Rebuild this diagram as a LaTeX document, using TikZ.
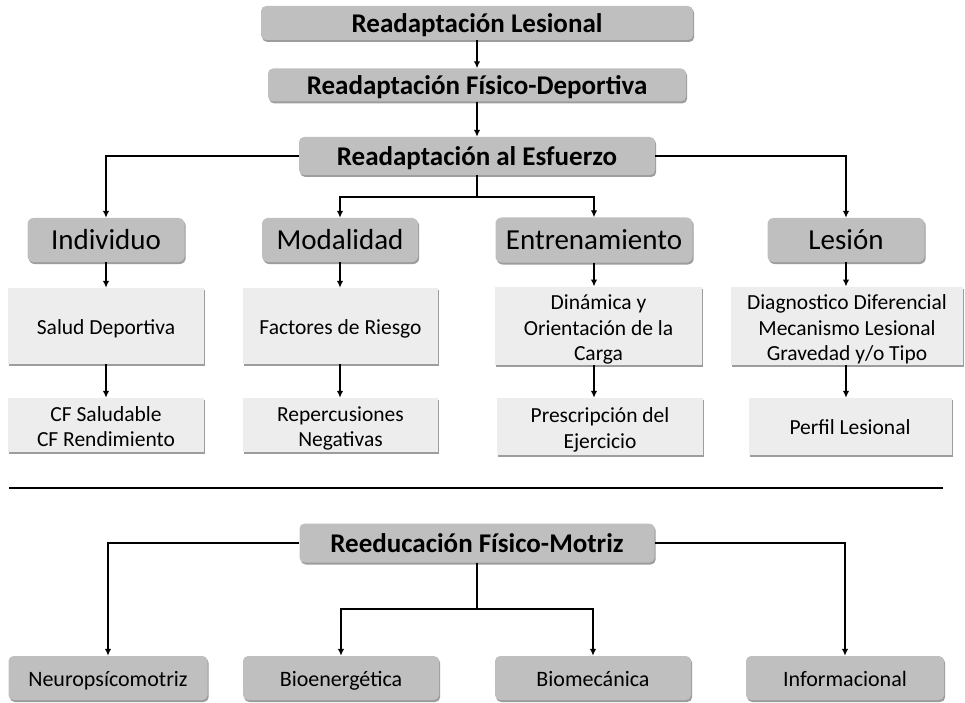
\documentclass[tikz,border=0pt]{standalone}
\usepackage{fontspec}
\setmainfont{Carlito}
\usetikzlibrary{shadows,arrows.meta}
\definecolor{darkfill}{HTML}{BFBFBF}
\definecolor{lightfill}{HTML}{EDEDED}
\newcommand\lo[2][3pt]{\raisebox{-#1}[\height][\depth]{\begin{tabular}{@{}c@{}}#2\end{tabular}}}
\tikzset{
  base/.style={draw=none, inner sep=1pt, text=black,
    drop shadow={shadow xshift=1.2pt, shadow yshift=-2pt, fill=black!70, opacity=0.55}},
  titlebox/.style={base, fill=darkfill, rounded corners=5pt, font=\fontsize{27}{31}\selectfont\bfseries},
  catbox/.style={base, fill=darkfill, rounded corners=6pt, font=\fontsize{29}{33}\selectfont},
  lightbox/.style={base, fill=lightfill, font=\fontsize{21.5}{25.5}\selectfont},
  smallcat/.style={base, fill=darkfill, rounded corners=5pt, font=\fontsize{22}{26}\selectfont},
  conn/.style={line width=2pt, -{Latex[length=7pt,width=6.5pt]}},
  plain/.style={line width=2pt}
}
\begin{document}
\begin{tikzpicture}[x=1pt,y=-1pt]
\useasboundingbox (0,0) rectangle (965,703);
% top titles
\node[titlebox, minimum width=432pt, minimum height=34pt] (L1) at (477,23) {\lo{Readaptación Lesional}};
\node[titlebox, minimum width=418pt, minimum height=30pt] (L2) at (477,85) {\lo{Readaptación Físico-Deportiva}};
\node[titlebox, minimum width=356pt, minimum height=38pt] (L3) at (477,156) {\lo{Readaptación al Esfuerzo}};
% categories
\node[catbox, minimum width=157pt, minimum height=44pt] (Ind) at (106,240) {\lo{Individuo}};
\node[catbox, minimum width=156pt, minimum height=44pt] (Mod) at (340,240) {\lo{Modalidad}};
\node[catbox, minimum width=197pt, minimum height=45pt] (Ent) at (594,240) {\lo{Entrenamiento}};
\node[catbox, minimum width=157pt, minimum height=44pt] (Les) at (846,240) {\lo{Lesión}};
% row 1
\node[lightbox, minimum width=196pt, minimum height=76pt] (Sal) at (106,326) {\lo{Salud Deportiva}};
\node[lightbox, minimum width=195pt, minimum height=76pt] (Fac) at (340.5,326) {\lo{Factores de Riesgo}};
\node[lightbox, minimum width=207pt, minimum height=76pt] (Din) at (598.5,326) {\lo[4pt]{Dinámica y\\Orientación de la\\Carga}};
\node[lightbox, minimum width=232pt, minimum height=76pt] (Dia) at (847,326) {\lo[4pt]{Diagnostico Diferencial\\Mecanismo Lesional\\Gravedad y/o Tipo}};
% row 2
\node[lightbox, minimum width=196pt, minimum height=54pt] (CF) at (106,425) {\lo[4pt]{CF Saludable\\CF Rendimiento}};
\node[lightbox, minimum width=195pt, minimum height=54pt] (Rep) at (340.5,425) {\lo[4pt]{Repercusiones\\Negativas}};
\node[lightbox, minimum width=206pt, minimum height=57pt] (Pre) at (600,426.5) {\lo[4pt]{Prescripción del\\Ejercicio}};
\node[lightbox, minimum width=203pt, minimum height=57pt] (Per) at (850,426.5) {\lo{Perfil Lesional}};
% connectors top
\draw[conn] (L1.south) -- (L1.south |- L2.north);
\draw[conn] (L2.south) -- (L2.south |- L3.north);
\draw[conn] (L3.west) -| (Ind.north);
\draw[conn] (L3.east) -| (Les.north);
\coordinate (J1) at (477,197);
\draw[plain] (L3.south) -- (J1);
\draw[conn] (J1) -| (Mod.north);
\draw[conn] (J1) -| (Ent.north);
\draw[conn] (Ind.south) -- (Ind.south |- Sal.north);
\draw[conn] (Mod.south) -- (Mod.south |- Fac.north);
\draw[conn] (Ent.south) -- (Ent.south |- Din.north);
\draw[conn] (Les.south) -- (Les.south |- Dia.north);
\draw[conn] (Ind.south |- Sal.south) -- (Ind.south |- CF.north);
\draw[conn] (Mod.south |- Fac.south) -- (Mod.south |- Rep.north);
\draw[conn] (Ent.south |- Din.south) -- (Ent.south |- Pre.north);
\draw[conn] (Les.south |- Dia.south) -- (Les.south |- Per.north);
% rule
\draw[line width=2pt] (9,488) -- (943,488);
% bottom
\node[titlebox, minimum width=355pt, minimum height=39pt] (Ree) at (477,543) {\lo{Reeducación Físico-Motriz}};
\node[smallcat, minimum width=199pt, minimum height=44pt] (Neu) at (108,678) {\lo{Neuropsícomotriz}};
\node[smallcat, minimum width=196pt, minimum height=44pt] (Bio) at (341,678) {\lo{Bioenergética}};
\node[smallcat, minimum width=196pt, minimum height=44pt] (Bim) at (593,678) {\lo{Biomecánica}};
\node[smallcat, minimum width=198pt, minimum height=44pt] (Inf) at (845,678) {\lo{Informacional}};
\draw[conn] (Ree.west) -| (Neu.north);
\draw[conn] (Ree.east) -| (Inf.north);
\coordinate (J2) at (477,609);
\draw[plain] (Ree.south) -- (J2);
\draw[conn] (J2) -| (Bio.north);
\draw[conn] (J2) -| (Bim.north);
\end{tikzpicture}
\end{document}
